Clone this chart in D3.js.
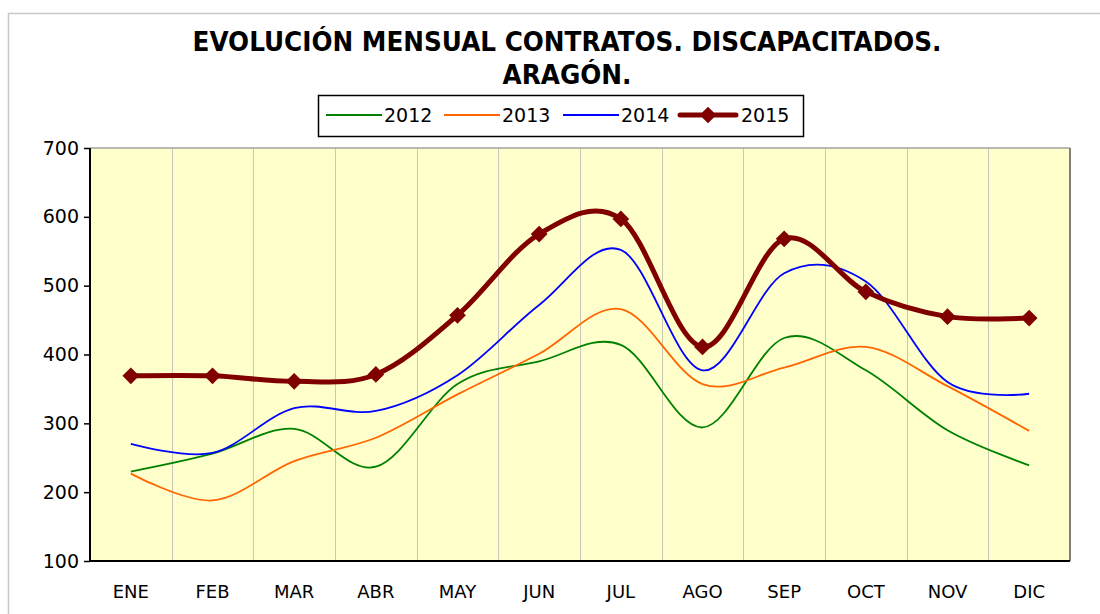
<!DOCTYPE html>
<html>
<head>
<meta charset="utf-8">
<script src="https://cdn.jsdelivr.net/npm/d3@7"></script>
<style>
  body { margin: 0; background: #fff; }
  svg text { font-family: "DejaVu Sans", Verdana, sans-serif; }
</style>
</head>
<body>
<div class="container"></div>
<script>
const WIDTH = 1100;
const HEIGHT = 614;
const PLOT = {left: 90, top: 148, right: 1070, bottom: 561};

const months = ['ENE','FEB','MAR','ABR','MAY','JUN','JUL','AGO','SEP','OCT','NOV','DIC'];
const years = ['2012','2013','2014','2015'];
const v2012 = [230, 256, 292, 237, 357, 390, 414, 294, 424, 377, 290, 239];
const v2013 = [227, 188, 245, 279, 342, 401, 466, 357, 381, 411, 354, 289];
const v2014 = [270, 257, 322, 318, 370, 472, 552, 377, 518, 506, 360, 343];
const v2015 = [369, 369, 361, 371, 457, 575, 597, 411, 568, 491, 455, 453];
const yTicks = [100, 200, 300, 400, 500, 600, 700];

const colors = {'2012': '#008000', '2013': '#ff6600', '2014': '#0000ff', '2015': '#800000'};
const series = [
  {name: '2012', values: v2012},
  {name: '2013', values: v2013},
  {name: '2014', values: v2014},
  {name: '2015', values: v2015}
];

var svg = d3.select('.container').append('svg')
  .attr('width', WIDTH)
  .attr('height', HEIGHT);

// outer chart frame
svg.append('rect')
  .attr('x', 8.5).attr('y', 13.5)
  .attr('width', 1100).attr('height', 620)
  .attr('fill', '#fff')
  .attr('stroke', '#c8c8c8')
  .attr('stroke-width', 1.5);

var x = d3.scaleBand()
  .domain(months)
  .range([PLOT.left, PLOT.right])
  .padding(0);

var y = d3.scaleLinear()
  .domain([100, 700])
  .range([PLOT.bottom, PLOT.top]);

var cx = function(m) { return x(m) + x.bandwidth()/2; };

// plot background
svg.append('rect')
  .attr('x', PLOT.left).attr('y', PLOT.top)
  .attr('width', PLOT.right - PLOT.left)
  .attr('height', PLOT.bottom - PLOT.top)
  .attr('fill', '#ffffcc');

// vertical category gridlines
svg.append('g')
  .selectAll('line')
  .data(months.slice(1))
  .enter().append('line')
  .attr('x1', function(d) { return Math.round(x(d)) + 0.5; })
  .attr('x2', function(d) { return Math.round(x(d)) + 0.5; })
  .attr('y1', PLOT.top)
  .attr('y2', PLOT.bottom)
  .attr('stroke', '#c8c8b8')
  .attr('stroke-width', 1);

// top and right plot border
svg.append('line')
  .attr('x1', PLOT.left).attr('x2', PLOT.right)
  .attr('y1', PLOT.top).attr('y2', PLOT.top)
  .attr('stroke', '#a0a0a0').attr('stroke-width', 1.5);
svg.append('line')
  .attr('x1', PLOT.right).attr('x2', PLOT.right)
  .attr('y1', PLOT.top).attr('y2', PLOT.bottom)
  .attr('stroke', '#808080').attr('stroke-width', 2);

// y axis
var yAxis = d3.axisLeft(y).tickValues(yTicks).tickSize(6).tickPadding(5);
var gy = svg.append('g')
  .attr('transform', 'translate(' + PLOT.left + ',0)')
  .call(yAxis);
gy.select('.domain').attr('stroke', '#000').attr('stroke-width', 2)
  .attr('d', 'M0,' + PLOT.top + 'V' + PLOT.bottom);
gy.selectAll('.tick line').attr('stroke', '#000').attr('stroke-width', 1.5);
gy.selectAll('.tick text')
  .attr('fill', '#000')
  .style('font-size', '19px')
  .style('font-family', '"DejaVu Sans", Verdana, sans-serif');

// x axis
var xAxis = d3.axisBottom(x).tickSize(0).tickPadding(24);
var gx = svg.append('g')
  .attr('transform', 'translate(0,' + PLOT.bottom + ')')
  .call(xAxis);
gx.select('.domain').attr('stroke', '#000').attr('stroke-width', 2)
  .attr('d', 'M' + (PLOT.left - 1) + ',0H' + PLOT.right);
gx.selectAll('.tick text')
  .attr('fill', '#000')
  .style('font-size', '18px')
  .style('font-family', '"DejaVu Sans", Verdana, sans-serif');

// lines
var line = d3.line()
  .x(function(d, i) { return cx(months[i]); })
  .y(function(d) { return y(d); })
  .curve(d3.curveCatmullRom.alpha(0));

svg.append('g')
  .selectAll('path')
  .data(series)
  .enter().append('path')
  .attr('d', function(s) { return line(s.values); })
  .attr('fill', 'none')
  .attr('stroke', function(s) { return colors[s.name]; })
  .attr('stroke-width', function(s) { return s.name === '2015' ? 5 : 1.8; })
  .attr('stroke-linejoin', 'round');

// 2015 diamond markers
var diamond = d3.symbol().type(d3.symbolSquare).size(140);
svg.append('g')
  .selectAll('path')
  .data(v2015)
  .enter().append('path')
  .attr('d', diamond)
  .attr('transform', function(d, i) {
    return 'translate(' + cx(months[i]) + ',' + y(d) + ') rotate(45)';
  })
  .attr('fill', '#800000');

// title
svg.append('text')
  .attr('x', 567).attr('y', 51)
  .attr('text-anchor', 'middle')
  .attr('textLength', 749)
  .attr('lengthAdjust', 'spacingAndGlyphs')
  .style('font-size', '27px').style('font-weight', 'bold')
  .text('EVOLUCIÓN MENSUAL CONTRATOS. DISCAPACITADOS.');
svg.append('text')
  .attr('x', 567).attr('y', 84)
  .attr('text-anchor', 'middle')
  .attr('textLength', 129)
  .attr('lengthAdjust', 'spacingAndGlyphs')
  .style('font-size', '27px').style('font-weight', 'bold')
  .text('ARAGÓN.');

// legend
var legend = svg.append('g');
legend.append('rect')
  .attr('x', 318.5).attr('y', 95.5)
  .attr('width', 485).attr('height', 41)
  .attr('fill', '#fff')
  .attr('stroke', '#000').attr('stroke-width', 1.5);

var legendX = [326, 444, 563, 680];
var item = legend.selectAll('.item')
  .data(series)
  .enter().append('g')
  .attr('class', 'item')
  .attr('transform', function(d, i) { return 'translate(' + legendX[i] + ',115)'; });

item.append('line')
  .attr('x1', 0).attr('x2', 56)
  .attr('y1', 0).attr('y2', 0)
  .attr('stroke', function(d) { return colors[d.name]; })
  .attr('stroke-width', function(d) { return d.name === '2015' ? 5 : 1.8; })
  .attr('stroke-linecap', function(d) { return d.name === '2015' ? 'round' : 'butt'; });

item.filter(function(d) { return d.name === '2015'; })
  .append('path')
  .attr('d', diamond)
  .attr('transform', 'translate(28,0) rotate(45)')
  .attr('fill', '#800000');

item.append('text')
  .attr('x', function(d) { return d.name === '2015' ? 61 : 58; })
  .attr('y', 7)
  .style('font-size', '19px')
  .text(function(d) { return d.name; });
</script>
</body>
</html>
